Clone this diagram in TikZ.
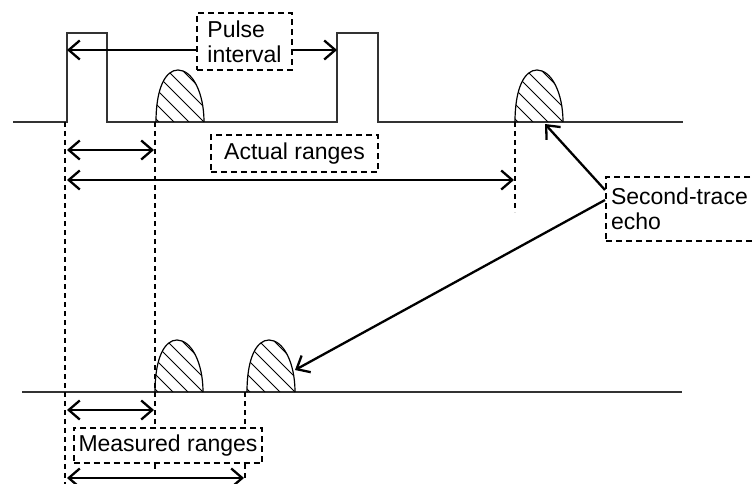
\documentclass[tikz,border=0pt]{standalone}
\usepackage{fontspec}
\setmainfont{Liberation Sans}
\usetikzlibrary{arrows.meta,positioning}

\begin{document}
\begin{tikzpicture}[
    x=1pt, y=-1pt,
    trace/.style={line width=1.5pt, black!80},
    guide/.style={line width=1.1pt, dash pattern=on 5pt off 4pt},
    span/.style={line width=2.3pt, {Straight Barb[length=11pt,width=19pt]}-{Straight Barb[length=11pt,width=19pt]}},
    callout/.style={line width=2.3pt, -{Straight Barb[length=11pt,width=19pt]}},
    tag/.style={draw, line width=2pt, dash pattern=on 6pt off 4pt, fill=white,
                font=\fontsize{23}{25}\selectfont, inner xsep=5pt, inner ysep=3pt, align=left},
    echo/.pic={
      \begin{scope}
        \clip (0,0) .. controls (0,-35) and (10,-52) .. (22,-52)
              .. controls (36,-52) and (48,-30) .. (48,0) -- cycle;
        \foreach \k in {0,...,6}
          \draw[line width=1pt] (\k*15+3-70,-70) -- (\k*15+3,0);
      \end{scope}
      \draw[line width=1.2pt] (0,0) .. controls (0,-35) and (10,-52) .. (22,-52)
            .. controls (36,-52) and (48,-30) .. (48,0);
    }
  ]
  \useasboundingbox (0,0) rectangle (752,484);

  % transmitted pulses and echoes
  \draw[trace] (13,122) -- (67,122) -- (67,33) -- (107,33) -- (107,122)
    -- (337,122) -- (337,33) -- (378,33) -- (378,122) -- (683,122);
  \pic at (156,122) {echo};
  \pic at (515,122) {echo};

  % received echoes
  \draw[trace] (22,392) -- (682,392);
  \pic at (155,392) {echo};
  \pic at (247,392) {echo};

  % range markers
  \draw[guide] (65,122) -- (65,484);
  \draw[guide] (155,122) -- (155,472);
  \draw[guide] (515,122) -- (515,212);
  \draw[guide] (245,392) -- (245,480);

  \coordinate (p1) at (67,50);
  \coordinate (p2) at (337,50);
  \draw[span] (p1) -- (p2);
  \node[tag, minimum width=95pt, minimum height=57pt] (pi) at (244.5,41.5) {Pulse\\interval};

  \coordinate (a0) at (67,150);
  \coordinate (a1) at (154,150);
  \coordinate (b0) at (67,180);
  \coordinate (b1) at (514,180);
  \draw[span] (a0) -- (a1);
  \draw[span] (b0) -- (b1);
  \node[tag, minimum width=167pt, minimum height=37pt] (ar) at (294.5,153.5) {Actual ranges};

  \coordinate (m0) at (67,410);
  \coordinate (m1) at (154,410);
  \coordinate (n0) at (67,478);
  \coordinate (n1) at (244,478);
  \draw[span] (m0) -- (m1);
  \draw[span] (n0) -- (n1);
  \node[tag, minimum width=188pt, minimum height=35pt] (mr) at (168,445.5) {Measured ranges};

  % second-trace callout
  \node[tag, anchor=north west, text width=180pt, minimum height=64pt, inner xsep=5pt] (ste) at (605,176) {Second-trace\\echo};
  \coordinate (e2) at (545,124);
  \coordinate (e4) at (295,370);
  \draw[callout] ([yshift=19pt]ste.west) -- (e2);
  \draw[callout] ([yshift=9pt]ste.west) -- (e4);
\end{tikzpicture}
\end{document}
